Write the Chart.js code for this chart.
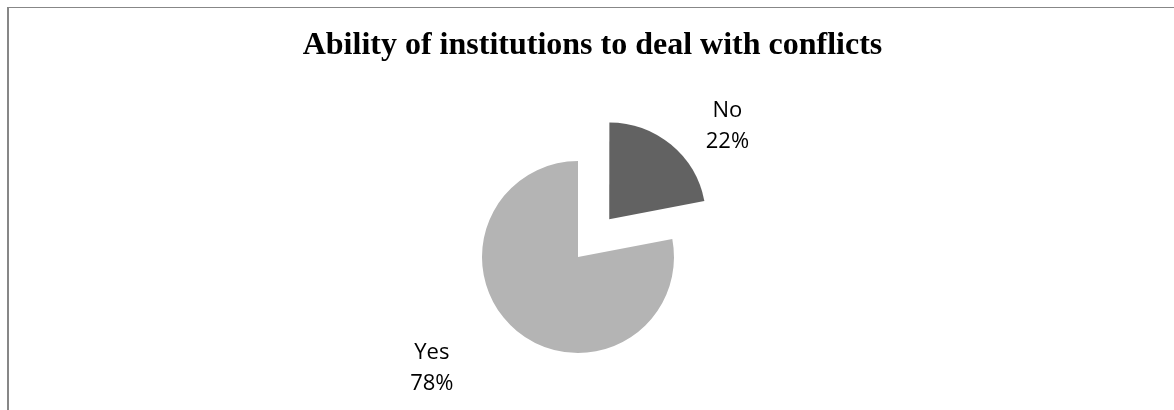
<!DOCTYPE html>
<html>
<head>
<meta charset="utf-8">
<script src="https://cdn.jsdelivr.net/npm/chart.js@4"></script>
<style>
  html, body { margin: 0; padding: 0; background: #fff; }
  #wrap { position: relative; width: 1174px; height: 410px; overflow: hidden; }
  #frame {
    position: absolute; left: 7px; top: 7px; width: 1200px; height: 440px;
    border-left: 2px solid #878787; border-top: 1px solid #878787;
  }
  #pieChart { position: absolute; left: 0; top: 0; }
</style>
</head>
<body>
<div id="wrap">
  <div id="frame"></div>
  <canvas id="pieChart" width="1174" height="410"></canvas>
</div>
<script>
// data
const categories = ["No", "Yes"];
const values = [22, 78];
const colors = ["#626262", "#b4b4b4"];

// labels outside the slices ("No" / "22%")
const outsideLabels = {
  id: "outsideLabels",
  afterDatasetsDraw(chart, args, opts) {
    const ctx = chart.ctx;
    const meta = chart.getDatasetMeta(0);
    const total = values.reduce((a, b) => a + b, 0);
    ctx.save();
    ctx.font = opts.font;
    ctx.fillStyle = "#000";
    ctx.textAlign = "center";
    ctx.textBaseline = "alphabetic";
    meta.data.forEach((arc, i) => {
      const p = arc.getProps(["x", "y", "startAngle", "endAngle", "outerRadius"], true);
      const mid = (p.startAngle + p.endAngle) / 2;
      const shift = (arc.options.offset || 0) / 4;
      const r = p.outerRadius + shift;
      const nudge = opts.nudge[i];
      const x = p.x + Math.cos(mid) * r + nudge[0];
      const y = p.y + Math.sin(mid) * r + nudge[1];
      const pct = Math.round(values[i] / total * 100) + "%";
      ctx.fillText(categories[i], x, y);
      ctx.fillText(pct, x, y + opts.lineHeight);
    });
    ctx.restore();
  }
};

// move the title a bit to the right of the pie centre
const titleShift = {
  id: "titleShift",
  afterLayout(chart, args, opts) {
    if (chart.titleBlock) {
      chart.titleBlock.left += opts.dx;
      chart.titleBlock.right += opts.dx;
    }
  }
};

const ctx = document.getElementById("pieChart").getContext("2d");
const myChart = new Chart(ctx, {
  type: "pie",
  data: {
    labels: categories,
    datasets: [
      {
        data: values,
        backgroundColor: colors,
        borderWidth: 0,
        offset: [196, 0],
        hoverOffset: 0,
      },
    ],
  },
  options: {
    responsive: false,
    animation: false,
    events: [],
    radius: 96,
    layout: {
      padding: { left: 0, right: 18, top: 0, bottom: 0 },
    },
    plugins: {
      legend: { display: false },
      tooltip: { enabled: false },
      title: {
        display: true,
        text: "Ability of institutions to deal with conflicts",
        color: "#000",
        font: { family: "'Liberation Serif', 'Times New Roman', serif", size: 32, weight: "bold" },
        padding: { top: 27, bottom: 38.6 },
      },
      titleShift: { dx: 14.5 },
      outsideLabels: {
        font: "22px 'Open Sans', sans-serif",
        lineHeight: 31,
        nudge: [[57, -28], [-85, 28]],
      },
    },
  },
  plugins: [titleShift, outsideLabels],
});
</script>
</body>
</html>
